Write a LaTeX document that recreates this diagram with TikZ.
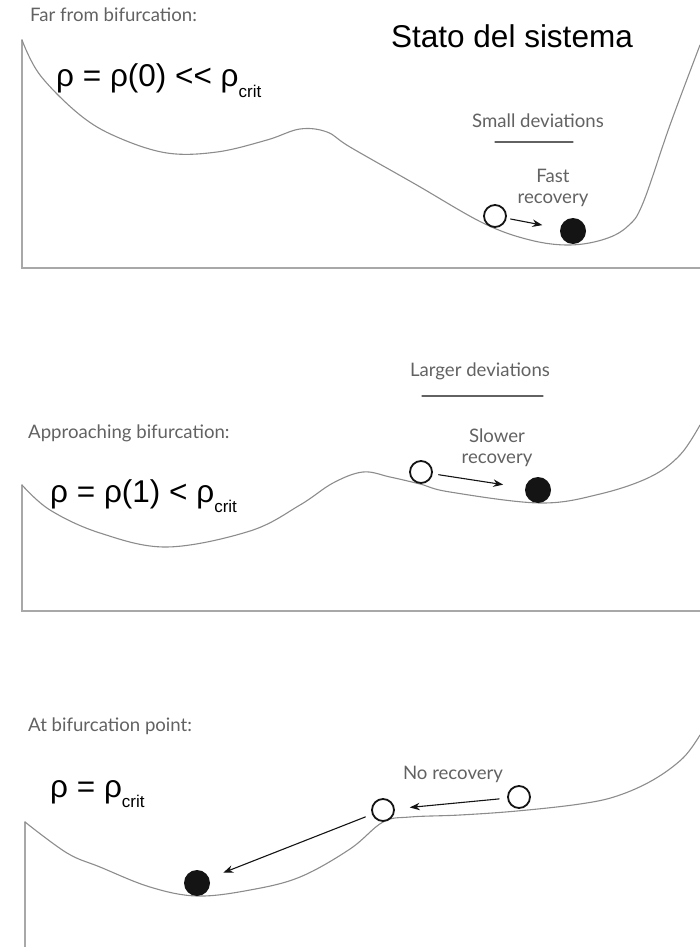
\documentclass[tikz,border=0pt]{standalone}
\usepackage{fontspec}
\usepackage{tikz}
\usetikzlibrary{arrows.meta}
\newfontfamily\latofont{Lato}
\newfontfamily\arialfont{Liberation Sans}
\definecolor{landgray}{HTML}{8C8C8C}
\definecolor{wallgray}{HTML}{A8A8A8}
\definecolor{notegray}{HTML}{626262}
\definecolor{ballink}{HTML}{141414}
\newcommand{\critsub}{\raisebox{-.32em}{\fontsize{17}{17}\selectfont crit}}
\tikzset{
  note/.style={notegray,font=\latofont\fontsize{18.6}{21}\selectfont,inner sep=0pt},
  bigtext/.style={black,font=\arialfont\fontsize{31.5}{32}\selectfont,inner sep=0pt},
  openball/.style={circle,draw=ballink,line width=1.8pt,minimum size=22pt,inner sep=0pt},
  fullball/.style={circle,fill=ballink,minimum size=26pt,inner sep=0pt},
  landscape/.style={landgray,line width=1.1pt},
  wall/.style={wallgray,line width=1.4pt},
  push/.style={->,ballink,line width=1.1pt},
}

\begin{document}
\begin{tikzpicture}[x=1pt,y=-1pt,>={Stealth[length=10pt,width=7.5pt]},line cap=round]
  \useasboundingbox (0,0) rectangle (700,947);

  % far from bifurcation
  \draw[wall] (22,40) -- (22,268) -- (700,268);
  \draw[landscape] plot[smooth,tension=.6] coordinates {(22,40) (40,75) (80,115)
    (117,137) (167,153) (217,152) (267,140) (300,129) (327,132) (350,147)
    (415,184) (483,223) (530,240) (570,245) (605,239) (628,226) (643,203)
    (670,125) (700,45)};
  \node[note,anchor=base west] (farlbl) at (30,22) {Far from bifurcation:};
  \node[bigtext,anchor=base] (stato) at (512,48) {Stato del sistema};
  \node[bigtext,anchor=base west] (rho0) at (56,87) {ρ = ρ(0) << ρ\critsub};
  \node[note,anchor=base] (smalldev) at (538,128) {Small deviations};
  \draw[notegray,line width=1.3pt] (495,142) -- (573,142);
  \node[note,align=center] (fastrec) at (553,188) {Fast\\recovery};
  \node[openball] (o1) at (495,216) {};
  \node[fullball] (f1) at (573,231) {};
  \draw[push,shorten <=4pt,shorten >=18pt] (o1) -- (f1);

  % approaching bifurcation
  \draw[wall] (22,485) -- (22,611) -- (700,611);
  \draw[landscape] plot[smooth,tension=.6] coordinates {(22,485) (50,510)
    (100,533) (167,547) (250,531) (300,505) (333,483) (363,472) (390,477)
    (420,484) (450,492) (540,503) (600,494) (650,477) (680,455) (700,425)};
  \node[note,anchor=base west] (applbl) at (28,438) {Approaching bifurcation:};
  \node[bigtext,anchor=base west] (rho1) at (50,502) {ρ = ρ(1) < ρ\critsub};
  \node[note,anchor=base] (largedev) at (480,376) {Larger deviations};
  \draw[notegray,line width=1.3pt] (422,396) -- (543,396);
  \node[note,align=center] (slowrec) at (497,448) {Slower\\recovery};
  \node[openball] (o2) at (421,472) {};
  \node[fullball] (f2) at (538,490) {};
  \draw[push,shorten <=6pt,shorten >=22pt] (o2) -- (f2);

  % at bifurcation point
  \draw[wall] (25,822) -- (25,947);
  \draw[landscape] plot[smooth,tension=.6] coordinates {(25,822) (67,853)
    (100,867) (150,887) (197,896) (250,890) (300,877) (350,849) (383,822)
    (410,817) (460,815) (517,811) (580,804) (617,796) (653,780) (683,758)
    (700,735)};
  \node[note,anchor=base west] (atlbl) at (28,731) {At bifurcation point:};
  \node[bigtext,anchor=base west] (rhoc) at (50,797) {ρ = ρ\critsub};
  \node[note,anchor=base] (norec) at (453,779) {No recovery};
  \node[openball] (o3r) at (519,797) {};
  \node[openball] (o3l) at (383,810) {};
  \node[fullball] (f3) at (197,883) {};
  \draw[push,shorten <=8pt,shorten >=15pt] (o3r) -- (o3l);
  \draw[push,shorten <=7pt,shorten >=15pt] (o3l) -- (f3);
\end{tikzpicture}
\end{document}
